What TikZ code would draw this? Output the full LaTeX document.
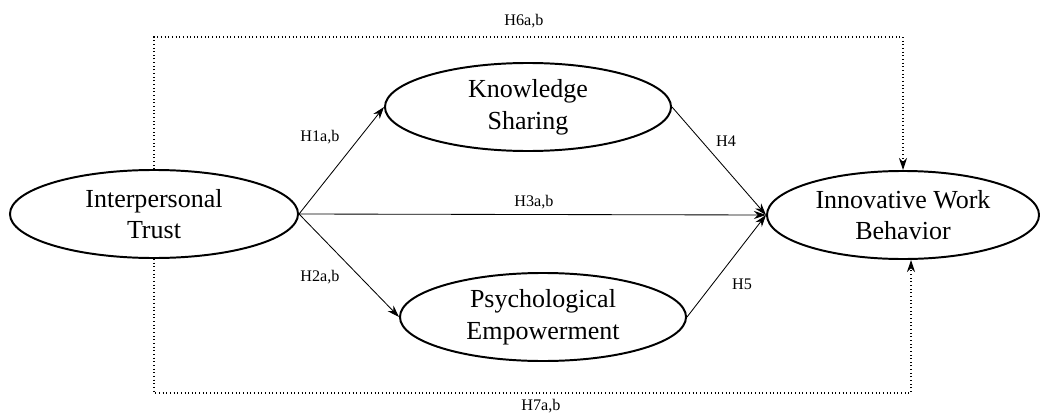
\documentclass[tikz,border=0pt]{standalone}
\usepackage{fontspec}
\setmainfont{Liberation Serif}
\usetikzlibrary{shapes,arrows.meta,positioning}
\tikzstyle{construct} = [
  ellipse,
  draw,
  line width=1.4pt,
  align=center,
  inner sep=0pt,
  font=\fontsize{18.5}{22.5}\selectfont,
  ]
\tikzstyle{path} = [-{Stealth[length=3mm,width=2mm]}, line width=0.6pt]
\tikzstyle{indirect} = [path, dotted, line width=0.8pt]
\tikzstyle{hyp} = [font=\fontsize{11.5}{13}\selectfont, inner sep=1pt]

\begin{document}
\begin{tikzpicture}[x=0.025cm, y=-0.025cm]
  \useasboundingbox (0,0) rectangle (1040,414);

  \node[construct, minimum width=7.2cm, minimum height=2.2cm] (trust) at (154,214)
    {Interpersonal\\Trust};
  \node[construct, minimum width=7.15cm, minimum height=2.2cm] (sharing) at (528,107)
    {Knowledge\\Sharing};
  \node[construct, minimum width=7.15cm, minimum height=2.2cm] (empower) at (543,317)
    {Psychological\\Empowerment};
  \node[construct, minimum width=6.8cm, minimum height=2.2cm] (iwb) at (903,215)
    {Innovative Work\\Behavior};

  \draw [path] (trust.east) -- (sharing.west);
  \draw [path] (trust.east) -- (empower.west);
  \draw [path] (trust.east) -- (iwb.west);
  \draw [path] (sharing.east) -- (iwb.west);
  \draw [path] (empower.east) -- (iwb.west);

  % indirect effects
  \coordinate (up) at (154,37);
  \coordinate (down) at (154,393);
  \draw [indirect] (trust.north) -- (up) -| (iwb.north);
  \draw [indirect] (trust.south) -- (down) -| ([xshift=0.2cm]iwb.south);

  \node[hyp] (h1) at (320,137) {H1a,b};
  \node[hyp] (h2) at (320,277) {H2a,b};
  \node[hyp] (h3) at (534,202) {H3a,b};
  \node[hyp] (h4) at (726,141) {H4};
  \node[hyp] (h5) at (742,284) {H5};
  \node[hyp] (h6) at (524,21) {H6a,b};
  \node[hyp] (h7) at (541,406) {H7a,b};

\end{tikzpicture}
\end{document}
